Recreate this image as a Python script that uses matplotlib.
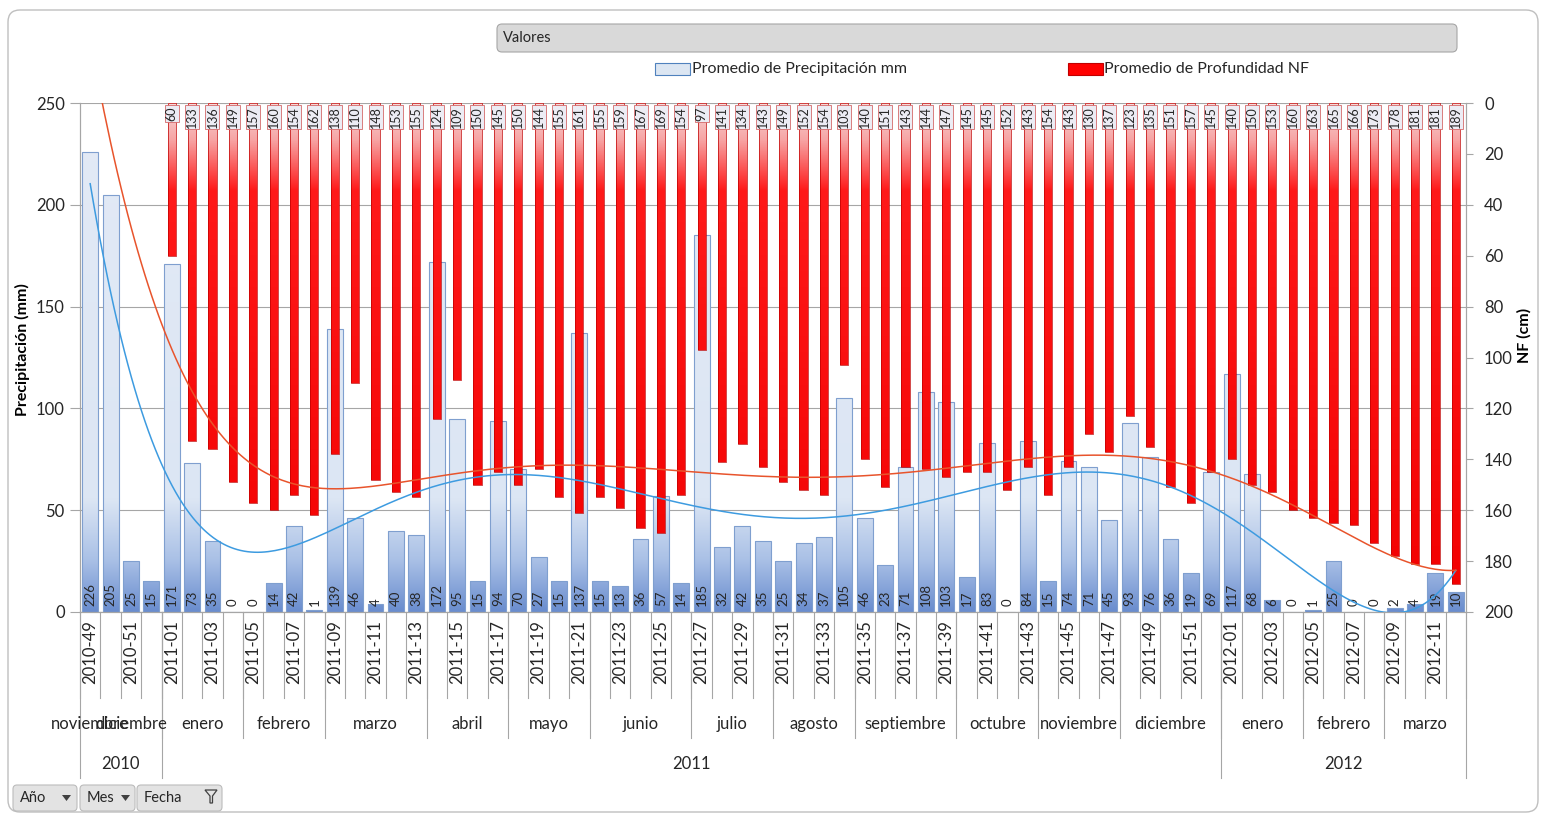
import matplotlib
matplotlib.use("Agg")
import matplotlib.pyplot as plt
import numpy as np
from matplotlib.colors import LinearSegmentedColormap
from matplotlib.patches import FancyBboxPatch, Rectangle, Polygon
from matplotlib.path import Path
from matplotlib.transforms import Affine2D

plt.rcParams["font.family"] = ["Lato", "DejaVu Sans"]

# ---- data -----------------------------------------------------------------
weeks = (["2010-49", "2010-50", "2010-51", "2010-52"]
         + [f"2011-{i:02d}" for i in range(1, 53)]
         + [f"2012-{i:02d}" for i in range(1, 13)])

month_names = ["noviembre", "diciembre", "enero", "febrero", "marzo", "abril",
               "mayo", "junio", "julio", "agosto", "septiembre", "octubre",
               "noviembre", "diciembre", "enero", "febrero", "marzo"]
month_weeks = [1, 3, 4, 4, 5, 4, 4, 5, 4, 4, 5, 4, 4, 5, 4, 4, 4]

year_names = ["2010", "2011", "2012"]
year_weeks = [4, 52, 12]

precip = [226, 205, 25, 15,
          171, 73, 35, 0, 0, 14, 42, 1, 139, 46, 4, 40, 38, 172, 95, 15, 94,
          70, 27, 15, 137, 15, 13, 36, 57, 14, 185, 32, 42, 35, 25, 34, 37,
          105, 46, 23, 71, 108, 103, 17, 83, 0, 84, 15, 74, 71, 45, 93, 76,
          36, 19, 69,
          117, 68, 6, 0, 1, 25, 0, 0, 2, 4, 19, 10]

nf = [np.nan, np.nan, np.nan, np.nan,
      60, 133, 136, 149, 157, 160, 154, 162, 138, 110, 148, 153, 155, 124,
      109, 150, 145, 150, 144, 155, 161, 155, 159, 167, 169, 154, 97, 141,
      134, 143, 149, 152, 154, 103, 140, 151, 143, 144, 147, 145, 145, 152,
      143, 154, 143, 130, 137, 123, 135, 151, 157, 145,
      140, 150, 153, 160, 163, 165, 166, 173, 178, 181, 181, 189]

# ---- style ----------------------------------------------------------------
W, H = 1544, 818
GRID = "#a6a6a6"
TXT = "#262626"
BLUE_EDGE = "#7f9fcf"
RED_EDGE = "#c00000"
BLUE_TREND = "#3d9be0"
RED_TREND = "#e8542c"

fig = plt.figure(figsize=(W / 100, H / 100), dpi=100)
# pixel coordinates with the origin at the top-left corner
pix = Affine2D().scale(1 / W, -1 / H).translate(0, 1) + fig.transFigure

L, R, T, B = 80, 1466, 103, 612
ax = fig.add_axes([L / W, 1 - B / H, (R - L) / W, (B - T) / H])
ax2 = ax.twinx()

n = len(weeks)
x = np.arange(n)
precip = np.array(precip, dtype=float)
nf = np.array(nf, dtype=float)

# blue precipitation bars with a bottom-dark gradient
bars = ax.bar(x, precip, width=0.78, facecolor="none", edgecolor=BLUE_EDGE,
              linewidth=0.8, zorder=3)
grad = np.linspace(0, 1, 256).reshape(-1, 1)
blue_cmap = LinearSegmentedColormap.from_list(
    "blue", [(0, "#6a8dce"), (0.1, "#a9c0e6"), (0.22, "#dce6f4"), (1, "#e3eaf6")])
im = ax.imshow(grad, cmap=blue_cmap, extent=(-0.5, n - 0.5, 0, 250),
               origin="lower", aspect="auto", zorder=2)
clip = Path.make_compound_path(
    *[b.get_path().transformed(b.get_patch_transform()) for b in bars])
im.set_clip_path(clip, ax.transData)

for xi, v in zip(x, precip):
    ax.text(xi, 3, f"{v:.0f}", rotation=90, ha="center", va="bottom",
            fontsize=9.5, color=TXT, zorder=4)

# red depth bars hanging from the top of the inverted right axis
ok = ~np.isnan(nf)
rbars = ax2.bar(x[ok], nf[ok], width=0.4, facecolor="none", edgecolor=RED_EDGE,
                linewidth=0.5, zorder=3)
red_cmap = LinearSegmentedColormap.from_list(
    "red", [(0, "#f6dada"), (0.07, "#f7a5a5"), (0.17, "#ff1a1a"), (1, "#f20000")])
im2 = ax2.imshow(grad, cmap=red_cmap, extent=(-0.5, n - 0.5, 200, 0),
                 origin="upper", aspect="auto", zorder=2)
clip2 = Path.make_compound_path(
    *[b.get_path().transformed(b.get_patch_transform()) for b in rbars])
im2.set_clip_path(clip2, ax2.transData)

for xi, v in zip(x[ok], nf[ok]):
    ax2.text(xi, 1.2, f"{v:.0f}", rotation=90, ha="center", va="top",
             fontsize=9, color=TXT, zorder=4,
             bbox=dict(boxstyle="square,pad=0.08", fc="#ececf4", ec="#d46a6a", lw=0.6))

# polynomial trend lines (order 6, like the spreadsheet trendline)
xs = np.linspace(0, n - 1, 400)
pb = np.polyfit(x, precip, 6)
pr = np.polyfit(x[ok], nf[ok], 6)
ax2.plot(xs, np.polyval(pb, xs), color=BLUE_TREND, lw=1.1, zorder=5,
         transform=ax.transData)
ax2.plot(xs, np.polyval(pr, xs), color=RED_TREND, lw=1.1, zorder=5)

# axes
ax.set_xlim(-0.5, n - 0.5)
ax.set_ylim(0, 250)
ax2.set_xlim(-0.5, n - 0.5)
ax2.set_ylim(200, 0)
ax.set_yticks(np.arange(0, 251, 50))
ax2.set_yticks(np.arange(0, 201, 20))
ax.set_xticks([])
ax.yaxis.grid(True, color=GRID, lw=0.8)
ax.set_axisbelow(True)
for a in (ax, ax2):
    for s in a.spines.values():
        s.set_color(GRID)
        s.set_linewidth(0.8)
    a.spines["top"].set_visible(False)
ax.tick_params(axis="y", direction="out", length=7, width=0.8, color=GRID,
               pad=4, labelsize=12, labelcolor=TXT)
ax2.tick_params(axis="y", direction="out", length=5, width=0.8, color=GRID,
                pad=8, labelsize=12, labelcolor=TXT)

fig.text(22, 350, "Precipitación (mm)", rotation=90, ha="center", va="center",
         fontsize=11.5, fontweight="bold", color="black", transform=pix)
fig.text(1524, 335, "NF (cm)", rotation=90, ha="center", va="center",
         fontsize=11.5, fontweight="bold", color="black", transform=pix)

# hierarchical category axis: week / month / year
xt = ax.get_xaxis_transform()
for i in range(0, n, 2):
    ax.text(i, -0.016, weeks[i], rotation=90, ha="center", va="top",
            fontsize=12, color=TXT, transform=xt)
for b in np.arange(n + 1) - 0.5:
    ax.plot([b, b], [0, -0.169], color=GRID, lw=0.8, transform=xt, clip_on=False)

edges = np.concatenate([[0], np.cumsum(month_weeks)]) - 0.5
for name, a, b in zip(month_names, edges[:-1], edges[1:]):
    ax.text((a + b) / 2, -0.22, name, ha="center", va="center",
            fontsize=12, color=TXT, transform=xt)
for b in edges[2:-1]:
    ax.plot([b, b], [0, -0.2475], color=GRID, lw=0.8, transform=xt, clip_on=False)

yedges = np.concatenate([[0], np.cumsum(year_weeks)]) - 0.5
for name, a, b in zip(year_names, yedges[:-1], yedges[1:]):
    ax.text((a + b) / 2, -0.2986, name, ha="center", va="center",
            fontsize=12, color=TXT, transform=xt)
for b in yedges:
    ax.plot([b, b], [0, -0.326], color=GRID, lw=0.8, transform=xt, clip_on=False)

# chart frame, field buttons and legend
fig.add_artist(FancyBboxPatch((8, 10), 1530, 802,
                              boxstyle="round,pad=0,rounding_size=12",
                              fc="none", ec="#bfbfbf", lw=1, transform=pix))
fig.add_artist(FancyBboxPatch((497, 24), 960, 28,
                              boxstyle="round,pad=0,rounding_size=5",
                              fc="#d9d9d9", ec="#a6a6a6", lw=0.8, transform=pix))
fig.text(503, 38, "Valores", ha="left", va="center", fontsize=10.5,
         color=TXT, transform=pix)

fig.add_artist(Rectangle((655, 63), 35, 12, fc="#dce6f2", ec="#4f81bd",
                         lw=0.8, transform=pix))
fig.text(692, 69, "Promedio de Precipitación mm", ha="left", va="center",
         fontsize=11.5, color=TXT, transform=pix)
fig.add_artist(Rectangle((1068, 63), 35, 12, fc="#ff0000", ec=RED_EDGE,
                         lw=0.8, transform=pix))
fig.text(1104, 69, "Promedio de Profundidad NF", ha="left", va="center",
         fontsize=11.5, color=TXT, transform=pix)

buttons = [("Año", 13, 64), ("Mes", 80, 55), ("Fecha", 137, 85)]
for label, bx, bw in buttons:
    fig.add_artist(FancyBboxPatch((bx, 785), bw, 26,
                                  boxstyle="round,pad=0,rounding_size=4",
                                  fc="#e3e3e3", ec="#bcbcbc", lw=0.8, transform=pix))
    fig.text(bx + 7, 798, label, ha="left", va="center", fontsize=10.5,
             color=TXT, transform=pix)
for bx in (62, 121):
    fig.add_artist(Polygon([(bx, 795), (bx + 9, 795), (bx + 4.5, 801)],
                           closed=True, fc="#404040", ec="none", transform=pix))
fig.add_artist(Polygon([(205, 790), (217, 790), (212.5, 796), (212.5, 803),
                        (210, 803), (210, 796)], closed=True, fc="none",
                       ec="#404040", lw=0.9, transform=pix))

fig.savefig("out.png", dpi=100)
